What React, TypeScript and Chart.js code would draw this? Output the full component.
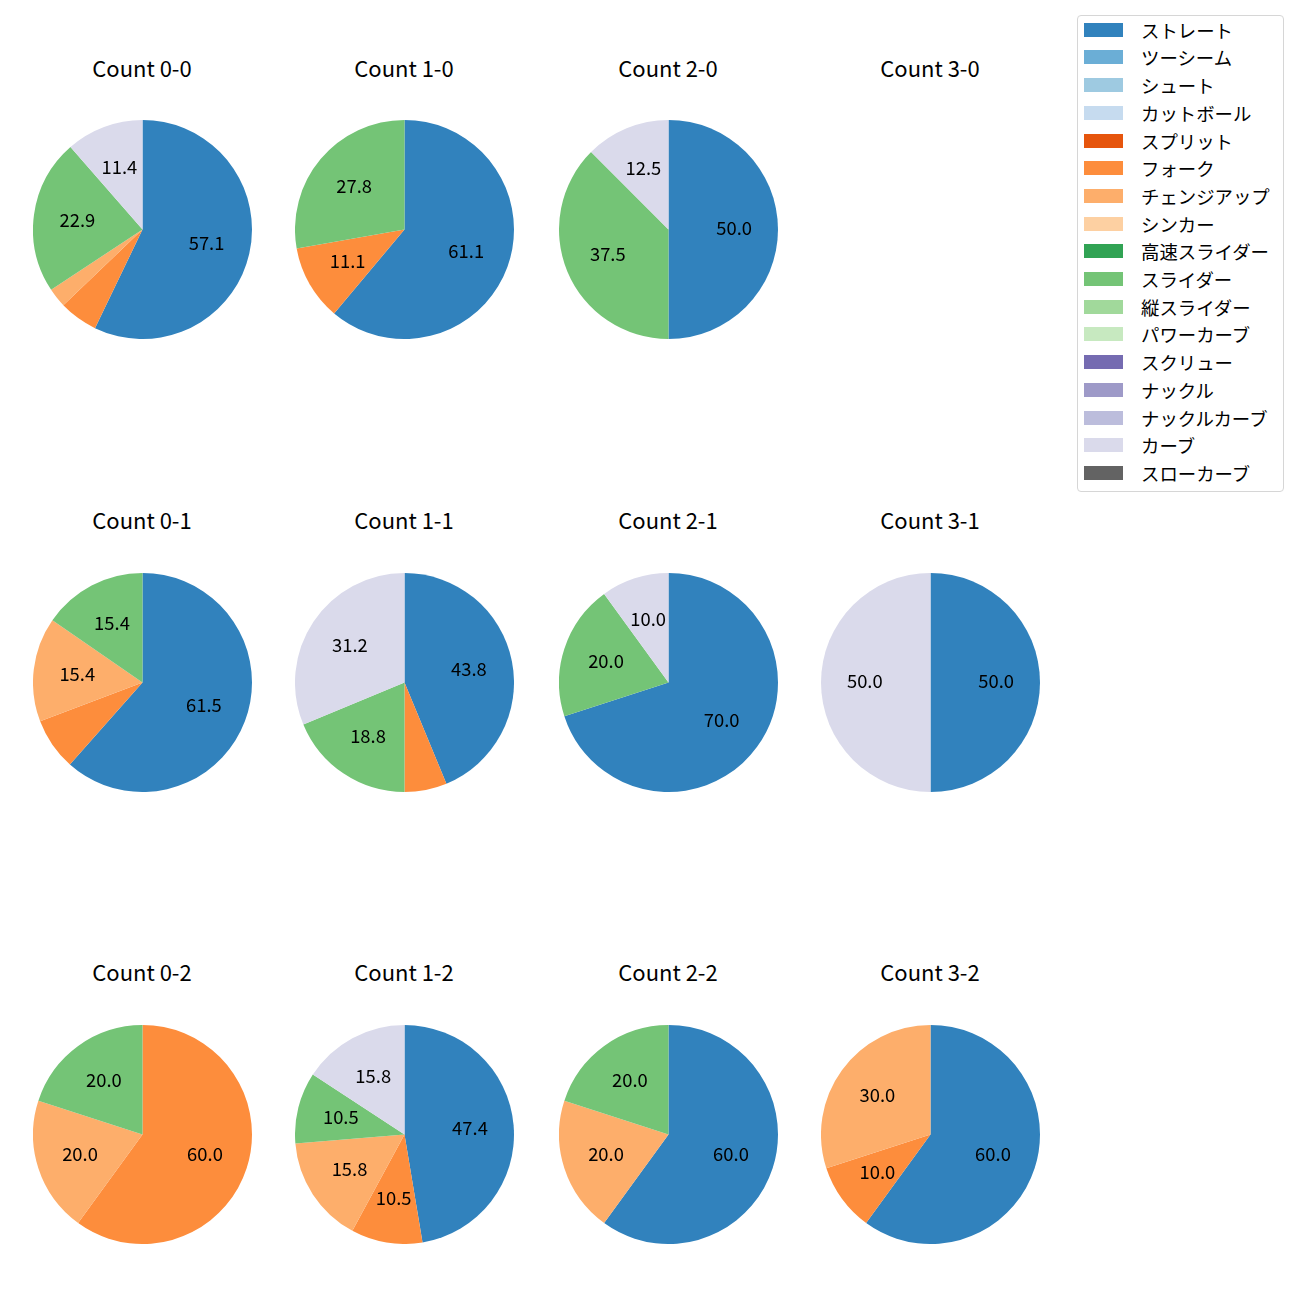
import React, { useEffect, useRef } from "react";
import { Chart, registerables } from "chart.js";

Chart.register(...registerables);

const FONT = '"Noto Sans CJK JP", "Noto Sans", sans-serif';

const pitchTypes = [
  "ストレート", "ツーシーム", "シュート", "カットボール", "スプリット", "フォーク",
  "チェンジアップ", "シンカー", "高速スライダー", "スライダー", "縦スライダー",
  "パワーカーブ", "スクリュー", "ナックル", "ナックルカーブ", "カーブ", "スローカーブ",
];

const pitchColors = [
  "#3182bd", "#6baed6", "#9ecae1", "#c6dbef", "#e6550d", "#fd8d3c",
  "#fdae6b", "#fdd0a2", "#31a354", "#74c476", "#a1d99b", "#c7e9c0",
  "#756bb1", "#9e9ac8", "#bcbddc", "#dadaeb", "#636363",
];

// pitch counts per ball-strike count, in pitchTypes order
const count00 = [20, 0, 0, 0, 0, 2, 1, 0, 0, 8, 0, 0, 0, 0, 0, 4, 0];
const count10 = [11, 0, 0, 0, 0, 2, 0, 0, 0, 5, 0, 0, 0, 0, 0, 0, 0];
const count20 = [4, 0, 0, 0, 0, 0, 0, 0, 0, 3, 0, 0, 0, 0, 0, 1, 0];
const count30: number[] = [0, 0, 0, 0, 0, 0, 0, 0, 0, 0, 0, 0, 0, 0, 0, 0, 0];
const count01 = [8, 0, 0, 0, 0, 1, 2, 0, 0, 2, 0, 0, 0, 0, 0, 0, 0];
const count11 = [7, 0, 0, 0, 0, 1, 0, 0, 0, 3, 0, 0, 0, 0, 0, 5, 0];
const count21 = [7, 0, 0, 0, 0, 0, 0, 0, 0, 2, 0, 0, 0, 0, 0, 1, 0];
const count31 = [1, 0, 0, 0, 0, 0, 0, 0, 0, 0, 0, 0, 0, 0, 0, 1, 0];
const count02 = [0, 0, 0, 0, 0, 3, 1, 0, 0, 1, 0, 0, 0, 0, 0, 0, 0];
const count12 = [9, 0, 0, 0, 0, 2, 3, 0, 0, 2, 0, 0, 0, 0, 0, 3, 0];
const count22 = [3, 0, 0, 0, 0, 0, 1, 0, 0, 1, 0, 0, 0, 0, 0, 0, 0];
const count32 = [6, 0, 0, 0, 0, 1, 3, 0, 0, 0, 0, 0, 0, 0, 0, 0, 0];

const countTitles = [
  "Count 0-0", "Count 1-0", "Count 2-0", "Count 3-0",
  "Count 0-1", "Count 1-1", "Count 2-1", "Count 3-1",
  "Count 0-2", "Count 1-2", "Count 2-2", "Count 3-2",
];
const countData = [
  count00, count10, count20, count30,
  count01, count11, count21, count31,
  count02, count12, count22, count32,
];

const colCenters = [142, 404, 668, 930];
const rowCenters = [229.5, 682, 1134.5];
const titleCenters = [67, 519, 971];
const R = 109.5;

// Python-like "%1.1f" (round half to even on exact halves)
function fmt1(v: number): string {
  const s = v * 10;
  const f = Math.floor(s);
  const diff = s - f;
  let r: number;
  if (Math.abs(diff - 0.5) < 1e-9) r = f % 2 === 0 ? f : f + 1;
  else r = Math.round(s);
  return (r / 10).toFixed(1);
}

const pctLabelPlugin = {
  id: "pctLabels",
  afterDatasetsDraw(chart: any) {
    const ctx = chart.ctx;
    const meta = chart.getDatasetMeta(0);
    const data = chart.data.datasets[0].data as number[];
    const total = data.reduce((a: number, b: number) => a + b, 0);
    if (!total) return;
    ctx.save();
    ctx.fillStyle = "#000";
    ctx.font = `18.4px ${FONT}`;
    ctx.textAlign = "center";
    ctx.textBaseline = "middle";
    meta.data.forEach((arc: any, i: number) => {
      const pct = (data[i] / total) * 100;
      if (pct < 9.95) return;
      const p = arc.getProps(["x", "y", "startAngle", "endAngle", "outerRadius"], true);
      const mid = (p.startAngle + p.endAngle) / 2;
      const r = p.outerRadius * 0.6;
      ctx.fillText(fmt1(pct), p.x + Math.cos(mid) * r, p.y + Math.sin(mid) * r - 1);
    });
    ctx.restore();
  },
};

function PieChart({ values }: { values: number[] }) {
  const ref = useRef<HTMLCanvasElement>(null);
  useEffect(() => {
    if (!ref.current) return;
    const chart = new Chart(ref.current, {
      type: "pie",
      data: {
        labels: pitchTypes,
        datasets: [
          {
            data: values,
            backgroundColor: pitchColors,
            borderWidth: 0,
          },
        ],
      },
      options: {
        responsive: false,
        animation: false,
        devicePixelRatio: 1,
        layout: { padding: 0 },
        events: [],
        plugins: {
          legend: { display: false },
          tooltip: { enabled: false },
          title: { display: false },
        },
      },
      plugins: [pctLabelPlugin],
    });
    return () => chart.destroy();
  }, [values]);
  const size = Math.round(R * 2);
  return <canvas ref={ref} width={size} height={size} style={{ width: size, height: size }} />;
}

export default function App() {
  const size = Math.round(R * 2);
  return (
    <div
      style={{
        position: "absolute",
        left: 0,
        top: 0,
        width: 1300,
        height: 1300,
        background: "#fff",
        fontFamily: FONT,
        overflow: "hidden",
      }}
    >
      {countTitles.map((title, i) => {
        const col = i % 4;
        const row = Math.floor(i / 4);
        const cx = colCenters[col];
        const cy = rowCenters[row];
        const hasData = countData[i].some((v) => v > 0);
        return (
          <React.Fragment key={title}>
            <div
              style={{
                position: "absolute",
                left: cx - 100,
                width: 200,
                top: titleCenters[row] - 15,
                height: 30,
                lineHeight: "30px",
                textAlign: "center",
                fontSize: 22,
                color: "#000",
                whiteSpace: "nowrap",
              }}
            >
              {title}
            </div>
            {hasData && (
              <div
                style={{
                  position: "absolute",
                  left: Math.round(cx - R),
                  top: Math.round(cy - R),
                  width: size,
                  height: size,
                }}
              >
                <PieChart values={countData[i]} />
              </div>
            )}
          </React.Fragment>
        );
      })}
      <div
        style={{
          position: "absolute",
          left: 1077,
          top: 15,
          width: 207,
          height: 477,
          border: "1px solid #d6d6d6",
          borderRadius: 4,
          background: "#fff",
          boxSizing: "border-box",
        }}
      >
        {pitchTypes.map((name, i) => {
          const cyL = 29.7 + i * 27.7 - 15;
          return (
            <React.Fragment key={name}>
              <div
                style={{
                  position: "absolute",
                  left: 6,
                  top: cyL - 7 - 1,
                  width: 39,
                  height: 14,
                  background: pitchColors[i],
                }}
              />
              <div
                style={{
                  position: "absolute",
                  left: 63,
                  top: cyL - 14 - 1,
                  height: 28,
                  lineHeight: "28px",
                  fontSize: 18.4,
                  color: "#000",
                  whiteSpace: "nowrap",
                }}
              >
                {name}
              </div>
            </React.Fragment>
          );
        })}
      </div>
    </div>
  );
}
